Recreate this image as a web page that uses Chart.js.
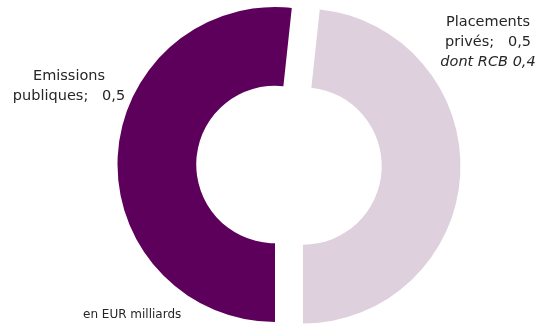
<!DOCTYPE html>
<html>
<head>
<meta charset="utf-8">
<script src="https://cdn.jsdelivr.net/npm/chart.js@4"></script>
<style>
    html, body { margin: 0; padding: 0; background: #fff; }
    #wrap { width: 542px; height: 324px; position: relative; }
</style>
</head>
<body>
<div id="wrap"><canvas id="repartitionChart"></canvas></div>
<script>
// ====================================
// DATOS
// ====================================
const categories = ['Emissions publiques', 'Placements privés'];
const values = [0.517, 0.483];
const valueLabels = ['0,5', '0,5'];
const subNotes = ['', 'dont RCB 0,4'];
const unitNote = 'en EUR milliards';
const colors = ['#5d005b', '#ded1dd'];

// Separación de la porción (solo traslación, sin agrandar el radio)
const explodePlugin = {
    id: 'explodePlugin',
    afterDatasetsUpdate(chart) {
        const dist = [0, 28];
        chart.getDatasetMeta(0).data.forEach((arc, i) => {
            const half = (arc.startAngle + arc.endAngle) / 2;
            arc.x += Math.cos(half) * dist[i];
            arc.y += Math.sin(half) * dist[i];
        });
    }
};

// Etiquetas de texto dibujadas a mano sobre el canvas
const labelsPlugin = {
    id: 'labelsPlugin',
    afterDraw(chart) {
        const ctx = chart.ctx;
        ctx.save();
        ctx.fillStyle = '#262626';
        ctx.textAlign = 'center';
        ctx.textBaseline = 'middle';

        // posiciones (centro de cada bloque de texto)
        const anchors = [{ x: 69, y: 76 }, { x: 488, y: 22 }];
        categories.forEach((cat, i) => {
            const words = cat.split(' ');
            const lines = [words[0], words.slice(1).join(' ') + ';   ' + valueLabels[i]];
            ctx.font = '14.5px "DejaVu Sans", Verdana, sans-serif';
            lines.forEach((line, j) => {
                ctx.fillText(line, anchors[i].x, anchors[i].y + j * 20);
            });
            if (subNotes[i]) {
                ctx.font = 'italic 14.5px "DejaVu Sans", Verdana, sans-serif';
                ctx.fillText(subNotes[i], anchors[i].x, anchors[i].y + lines.length * 20);
            }
        });

        // unidad
        ctx.font = '12px "DejaVu Sans", Verdana, sans-serif';
        ctx.textAlign = 'left';
        ctx.fillText(unitNote, 83, 315);
        ctx.restore();
    }
};

function renderChart() {
    const ctx = document.getElementById('repartitionChart').getContext('2d');
    new Chart(ctx, {
        type: 'doughnut',
        data: {
            labels: categories,
            datasets: [{
                data: values,
                backgroundColor: colors,
                borderWidth: 0
            }]
        },
        options: {
            responsive: false,
            animation: false,
            rotation: 180,
            cutout: '50%',
            radius: 157.5,
            layout: {
                padding: { left: 8, right: 0, top: 5, bottom: 0 }
            },
            plugins: {
                legend: { display: false },
                tooltip: { enabled: false }
            }
        },
        plugins: [explodePlugin, labelsPlugin]
    });
}

// tamaño fijo del canvas
const canvas = document.getElementById('repartitionChart');
canvas.width = 542;
canvas.height = 324;
canvas.style.width = '542px';
canvas.style.height = '324px';
renderChart();
</script>
</body>
</html>
